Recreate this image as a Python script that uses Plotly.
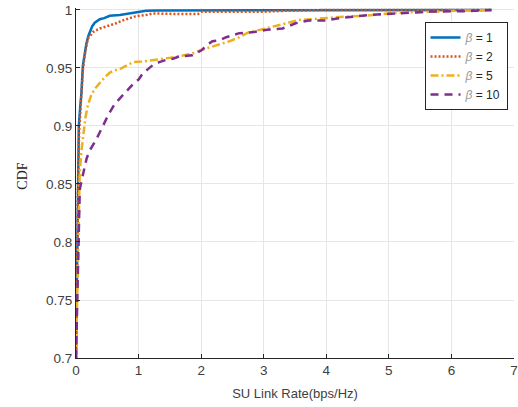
import plotly.graph_objects as go

# beta = 1
x_b1 = [0.0, 0.01, 0.02, 0.03, 0.045, 0.065, 0.086, 0.11, 0.14, 0.166, 0.2, 0.22, 0.26, 0.3, 0.38, 0.45, 0.54, 0.7, 0.85, 0.96, 1.12, 1.3, 2.0, 3.0, 4.0, 5.0, 6.0, 6.64]
y_b1 = [0.70, 0.75, 0.81, 0.85, 0.90, 0.915, 0.928, 0.952, 0.963, 0.971, 0.978, 0.981, 0.986, 0.989, 0.992, 0.993, 0.995, 0.9957, 0.997, 0.9985, 0.9994, 0.9996, 0.9997, 0.9998, 0.9999, 0.9999, 1.0, 1.0]

# beta = 2
x_b2 = [0.0, 0.01, 0.02, 0.035, 0.05, 0.08, 0.11, 0.14, 0.19, 0.22, 0.27, 0.38, 0.5, 0.64, 0.75, 0.86, 0.95, 1.12, 1.23, 1.6, 1.95, 2.0, 2.5, 3.0, 3.3, 4.0, 5.0, 6.0, 6.64]
y_b2 = [0.70, 0.75, 0.81, 0.86, 0.895, 0.928, 0.948, 0.961, 0.9756, 0.977, 0.981, 0.984, 0.986, 0.9885, 0.991, 0.9928, 0.9945, 0.9957, 0.997, 0.9965, 0.9965, 0.9984, 0.9984, 0.9985, 0.9992, 1.0, 1.0, 1.0, 1.0]

# beta = 5
x_b5 = [0.0, 0.02, 0.04, 0.06, 0.09, 0.12, 0.15, 0.19, 0.24, 0.3, 0.38, 0.46, 0.54, 0.62, 0.7, 0.8, 0.91, 1.05, 1.23, 1.4, 1.6, 1.86, 2.0, 2.15, 2.3, 2.45, 2.61, 2.77, 2.95, 3.1, 3.25, 3.4, 3.57, 3.75, 3.9, 4.1, 4.3, 4.6, 5.0, 5.4, 5.8, 6.2, 6.64]
y_b5 = [0.70, 0.76, 0.82, 0.86, 0.88, 0.895, 0.907, 0.918, 0.926, 0.932, 0.937, 0.942, 0.946, 0.948, 0.949, 0.952, 0.955, 0.9555, 0.9565, 0.958, 0.9595, 0.9625, 0.9655, 0.968, 0.9705, 0.973, 0.9765, 0.981, 0.983, 0.985, 0.987, 0.989, 0.9914, 0.992, 0.9928, 0.9935, 0.9943, 0.995, 0.997, 0.998, 0.999, 0.9995, 1.0]

# beta = 10
x_b10 = [0.0, 0.016, 0.03, 0.05, 0.06, 0.09, 0.11, 0.17, 0.22, 0.32, 0.43, 0.52, 0.62, 0.72, 0.82, 0.91, 1.0, 1.07, 1.15, 1.23, 1.33, 1.44, 1.55, 1.65, 1.86, 2.0, 2.1, 2.18, 2.3, 2.4, 2.61, 2.85, 3.05, 3.3, 3.51, 3.72, 3.99, 4.2, 4.68, 5.2, 5.69, 6.22, 6.64]
y_b10 = [0.70, 0.736, 0.793, 0.828, 0.845, 0.853, 0.858, 0.872, 0.879, 0.888, 0.9, 0.91, 0.919, 0.925, 0.931, 0.936, 0.940, 0.9455, 0.949, 0.9526, 0.955, 0.957, 0.958, 0.96, 0.961, 0.965, 0.970, 0.973, 0.974, 0.9765, 0.98, 0.981, 0.983, 0.984, 0.9885, 0.991, 0.991, 0.9928, 0.9957, 0.997, 0.9986, 0.999, 1.0]

x_ticks = [0, 1, 2, 3, 4, 5, 6, 7]
y_ticks = [0.7, 0.75, 0.8, 0.85, 0.9, 0.95, 1]
y_ticklabels = ["0.7", "0.75", "0.8", "0.85", "0.9", "0.95", "1"]

def lbl(v):
    return '<i><span style="color:#9a9a9a">β</span></i> = ' + v

series = [
    (x_b1, y_b1, lbl("1"), "#0072BD", "solid"),
    (x_b2, y_b2, lbl("2"), "#D95319", "2px,2px"),
    (x_b5, y_b5, lbl("5"), "#EDB120", "8px,3px,2px,3px"),
    (x_b10, y_b10, lbl("10"), "#7E2F8E", "8px,6px"),
]

fig = go.Figure()
for xs, ys, name, col, dash in series:
    fig.add_trace(go.Scatter(x=xs, y=ys, mode="lines", name=name,
                             line=dict(color=col, width=2.5, dash=dash)))

axis_common = dict(showgrid=True, gridcolor="#e6e6e6", gridwidth=1,
                   showline=True, linecolor="#262626", linewidth=1,
                   ticks="inside", ticklen=4, tickcolor="#262626",
                   zeroline=False, mirror=False, ticklabeloverflow="allow",
                   tickfont=dict(family="Liberation Sans, Arial", size=13.5, color="#404040"))

fig.update_layout(
    width=518, height=407,
    margin=dict(l=76, r=0, t=8, b=49),
    paper_bgcolor="white", plot_bgcolor="white",
    xaxis=dict(range=[0, 7], tickvals=x_ticks, **axis_common,
               title=dict(text="SU Link Rate(bps/Hz)", standoff=11,
                          font=dict(family="Liberation Sans, Arial", size=13, color="#404040"))),
    yaxis=dict(range=[0.7, 1.0017], tickvals=y_ticks, ticktext=y_ticklabels, **axis_common),
    showlegend=True,
    legend=dict(x=0.7957, y=0.96, xanchor="left", yanchor="top",
                bgcolor="white", bordercolor="#262626", borderwidth=1,
                font=dict(family="Liberation Sans, Arial", size=12, color="#262626"),
                tracegroupgap=0, itemwidth=30),
    annotations=[dict(text="CDF", xref="paper", yref="paper", x=-0.124, y=0.52,
                      xanchor="center", yanchor="middle", textangle=-90, showarrow=False,
                      font=dict(family="Liberation Serif, Times New Roman", size=14, color="#262626"))],
)

fig.write_html("out.html", config={"displayModeBar": False},
               post_script="document.body.style.margin='0px';")
